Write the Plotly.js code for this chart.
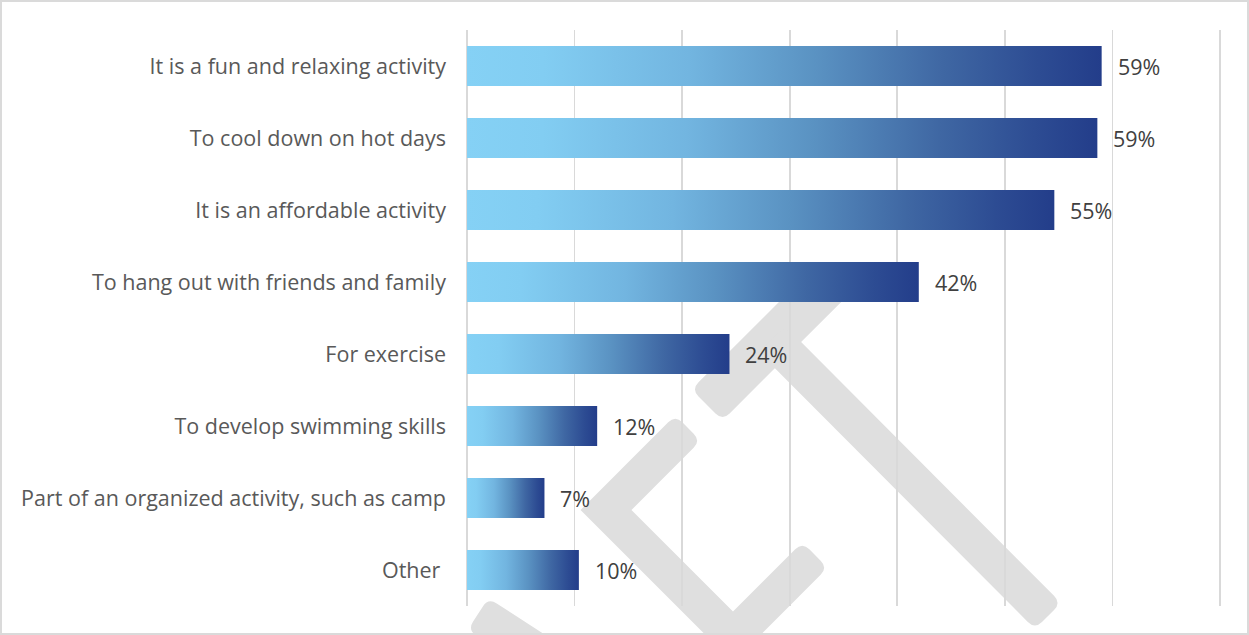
<!DOCTYPE html>
<html>
<head>
<meta charset="utf-8">
<script src="https://cdn.plot.ly/plotly-3.0.1.min.js"></script>
<style>
  html, body { margin: 0; padding: 0; background: #ffffff; }
  #wrap { position: relative; width: 1249px; height: 635px; overflow: hidden; }
  #chart { width: 1249px; height: 635px; }
  #frame { position: absolute; left: 0; top: 0; width: 1249px; height: 635px; box-sizing: border-box;
           border: 2px solid #dadada; pointer-events: none; }
</style>
</head>
<body>
<div id="wrap"><div id="chart"></div><div id="frame"></div></div>
<script>
// ---- data ----
const categories = [
  "It is a fun and relaxing activity",
  "To cool down on hot days",
  "It is an affordable activity",
  "To hang out with friends and family",
  "For exercise",
  "To develop swimming skills",
  "Part of an organized activity, such as camp",
  "Other\u00a0"
];
const values = [59.0, 58.6, 54.6, 42.0, 24.4, 12.1, 7.2, 10.4];
const valueLabels = ["59%", "59%", "55%", "42%", "24%", "12%", "7%", "10%"];
const xTicks = [0, 10, 20, 30, 40, 50, 60, 70];

// ---- style ----
const FONT = "'Open Sans', Lato, sans-serif";
const gradient = [
  [0.0, "#85d1f5"], [0.12, "#82cdf2"], [0.35, "#72b5e0"], [0.55, "#5a92c2"],
  [0.75, "#3f67a3"], [0.9, "#2d4c93"], [1.0, "#233d8a"]
];
const half = 0.278;

const traces = categories.map((c, i) => ({
  type: "scatter",
  mode: "lines",
  x: [0, values[i], values[i], 0, 0],
  y: [i - half, i - half, i + half, i + half, i - half],
  fill: "toself",
  fillgradient: { type: "horizontal", colorscale: gradient },
  fillcolor: "#5a92c2",
  line: { width: 0 },
  hoverinfo: "skip",
  showlegend: false
}));

const annotations = values.map((v, i) => ({
  x: v, y: i, xref: "x", yref: "y",
  text: valueLabels[i], showarrow: false,
  xanchor: "left", yanchor: "middle", xshift: 14,
  font: { family: FONT, size: 21.5, color: "#404040" }
}));

// ---- decorative watermark (pixel positions converted to paper coords) ----
const L = 464, R = 1223, T = 30, B = 606;
function toPaper(p) {
  return ((p[0] - L) / (R - L)).toFixed(5) + "," + ((B - p[1]) / (B - T)).toFixed(5);
}
function norm(v) { const l = Math.hypot(v[0], v[1]); return [v[0] / l, v[1] / l]; }
function bandOutline(pts, w) {
  const h = w / 2, n = pts.length;
  const segN = [];
  for (let i = 0; i < n - 1; i++) {
    const d = norm([pts[i + 1][0] - pts[i][0], pts[i + 1][1] - pts[i][1]]);
    segN.push([-d[1], d[0]]);
  }
  const left = [], right = [];
  for (let i = 0; i < n; i++) {
    let m, k;
    if (i === 0) { m = segN[0]; k = h; }
    else if (i === n - 1) { m = segN[n - 2]; k = h; }
    else {
      m = norm([segN[i - 1][0] + segN[i][0], segN[i - 1][1] + segN[i][1]]);
      k = h / (m[0] * segN[i][0] + m[1] * segN[i][1]);
    }
    left.push([pts[i][0] + m[0] * k, pts[i][1] + m[1] * k, i === 0 || i === n - 1]);
    right.push([pts[i][0] - m[0] * k, pts[i][1] - m[1] * k, i === 0 || i === n - 1]);
  }
  return left.concat(right.reverse());
}
function roundedPath(poly, r) {
  const n = poly.length;
  let d = "";
  for (let i = 0; i < n; i++) {
    const V = poly[i], Pp = poly[(i - 1 + n) % n], Nn = poly[(i + 1) % n];
    if (V[2]) {
      const a = norm([Pp[0] - V[0], Pp[1] - V[1]]), b = norm([Nn[0] - V[0], Nn[1] - V[1]]);
      const p1 = [V[0] + a[0] * r, V[1] + a[1] * r], p2 = [V[0] + b[0] * r, V[1] + b[1] * r];
      d += (i === 0 ? "M" : " L") + toPaper(p1) + " Q" + toPaper(V) + " " + toPaper(p2);
    } else {
      d += (i === 0 ? "M" : " L") + toPaper(V);
    }
  }
  return d + " Z";
}
function band(pts, w) {
  return {
    type: "path", xref: "paper", yref: "paper", layer: "below",
    path: roundedPath(bandOutline(pts, w), 10),
    line: { width: 0 },
    fillcolor: "#dfdfdf"
  };
}
const shapes = [
  band([[707, 405], [834, 278]], 44),
  band([[772, 339], [1048, 616]], 37),
  band([[688, 428], [606, 510], [733, 637], [815, 555]], 36),
  band([[478, 614], [600, 693]], 38)
];

const layout = {
  width: 1249, height: 635,
  margin: { l: 464, r: 26, t: 30, b: 29, pad: 0 },
  paper_bgcolor: "#ffffff",
  plot_bgcolor: "rgba(0,0,0,0)",
  font: { family: FONT, size: 21.5, color: "#595959" },
  xaxis: {
    range: [-0.28, 70.28], tickvals: xTicks, showticklabels: false,
    showgrid: true, gridcolor: "#d9d9d9", gridwidth: 1.6,
    zeroline: false, showline: false, ticks: "", fixedrange: true
  },
  yaxis: {
    range: [7.5, -0.5], tickvals: categories.map((c, i) => i), ticktext: categories,
    showgrid: false, zeroline: false, showline: false, ticks: "",
    ticklabelstandoff: 17,
    tickfont: { family: FONT, size: 21.5, color: "#595959" },
    fixedrange: true
  },
  annotations: annotations,
  shapes: shapes,
  showlegend: false
};

Plotly.newPlot("chart", traces, layout, { displayModeBar: false, staticPlot: true });
</script>
</body>
</html>
